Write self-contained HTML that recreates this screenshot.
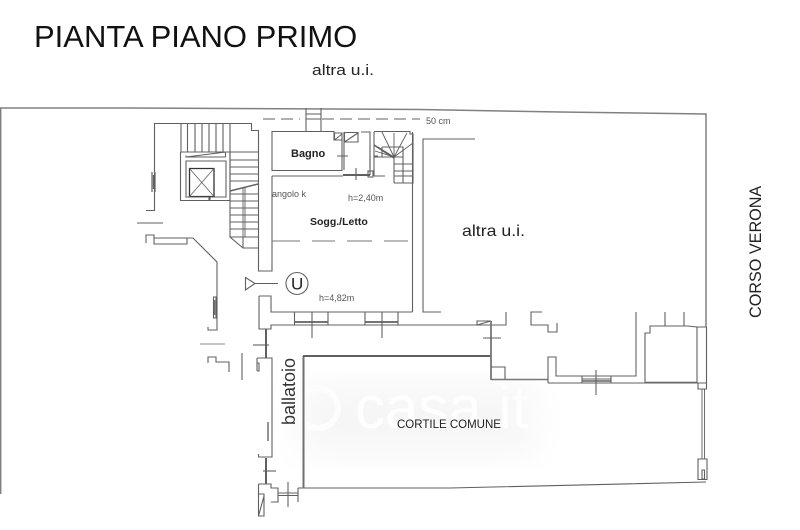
<!DOCTYPE html>
<html>
<head>
<meta charset="utf-8">
<style>
html,body{margin:0;padding:0;background:#fff;width:800px;height:530px;overflow:hidden}
svg{display:block}
text{font-family:"Liberation Sans",sans-serif}
</style>
</head>
<body>
<svg width="800" height="530" viewBox="0 0 800 530" xmlns="http://www.w3.org/2000/svg">
<defs>
<filter id="b" x="-20%" y="-20%" width="140%" height="140%"><feGaussianBlur stdDeviation="18"/></filter>
</defs>
<rect width="800" height="530" fill="#fff"/>
<!-- watermark haze -->
<rect x="300" y="385" width="235" height="70" fill="#f6f6f6" filter="url(#b)"/>
<circle cx="318" cy="408" r="20" fill="none" stroke="#fdfdfd" stroke-width="6"/>
<text x="355" y="428" font-size="60" fill="#fefefe">casa.it</text>

<g fill="none" stroke="#606060" stroke-width="1.1">
<!-- outer -->
<path d="M0.7 494V108L130 108 420 109.5 560 112 706 114V327" stroke="#808080" stroke-width="1.5"/>
<path d="M263 119H300M322 119H420" stroke-dasharray="12 6"/>
<!-- duct -->
<path d="M306 108V131M321 108V131M306 114H321M306 119H321"/>

<!-- stairwell outer -->
<path d="M146 210.5H154.5V123.5H251.5V130.5H258.5V271H272V176M272 131V170.5H342V140H334V131.5H272"/>
<path d="M181 123.5V152M187.5 123.5V152M195 123.5V152M202 123.5V152M209 123.5V152M216 123.5V152M223 123.5V152M230 123.5V152"/>
<path d="M180.5 152H258M185.5 157H225.5L186 157M186 157L226 152M186 155.5V157M225.5 152V157"/>
<path d="M180.5 152V200.5H209V197M230 152V200.5H210V197M186 161H226V197H186Z"/>
<path d="M189.5 168.5H214V196.5H189.5Z" stroke="#333" stroke-width="1.3"/>
<path d="M189.5 168.5L214 196.5M214 168.5L189.5 196.5M189.5 197H214" stroke-width=".8"/>
<path d="M230 152V237L243 248H258M230 160H258M230 167H258M230 174H258M230 181H258M230 194H258M230 201H258M230 208H258M230 215H258M230 222H258M230 229H258M230 237H258M243 248V237"/>
<path d="M230 191L258 184" stroke-width="1.5"/>
<path d="M243 188V237M245 188V237" stroke-width=".9"/>
<path d="M152 172V192M155 172V192M153.5 175V189" stroke-width="1.2"/>
<path d="M137 223H163"/>

<!-- left wing -->
<path d="M146 243V235H154V244H187V238H193L217 262V330H208V327M154 238H193"/>
<path d="M213.5 297H216V318H213.5ZM214.7 300V315"/>
<path d="M200 344H225" stroke="#888"/>
<path d="M208 363V357H216V362H229V372M242 353V380" />

<!-- triangle & U -->
<path d="M245.5 277.5V290L255 283.5ZM255 283.5H278"/>
<circle cx="297" cy="283.5" r="11"/>

<!-- block below -->
<path d="M259 296H271V312H412.5M259 296V329H271V325H490"/>
<path d="M266 329V358" stroke-width="2"/>
<path d="M253 345H269"/>
<path d="M257 358H272V457H258.5V454M257 358V371M257 371H259V363H257"/>
<path d="M268 422V441" stroke-width="1.8" stroke="#888"/>
<path d="M266 458V484" stroke-width="2"/>
<path d="M263 471H276"/>
<path d="M258.5 484H271V488H278V502H271M258.5 484V516H264V494H258.5M258.5 516L264 496"/>
<path d="M278 493H298M278 495.5H298"/>
<path d="M288 482V507M298 488V502M298 488H450L706 482"/>
<path d="M303.5 356V488" stroke-width="2" stroke="#707070"/>
<path d="M303 356H491" stroke-width="2" stroke="#606060"/>

<!-- windows on y=312-325 -->
<path d="M294.5 312V325M328 312V325M294.5 322H328M312 312V338"/>
<path d="M294.5 322H328" stroke-width="1.8"/>
<path d="M365 312V325M398 312V325M382 312V338"/>
<path d="M365 322H398" stroke-width="1.8"/>

<!-- Sogg room -->
<path d="M272 176H343M412.5 132V312"/>
<path d="M272 241H300M312 241H335M347 241H372M384 241H408" stroke="#777" stroke-width="1"/>

<!-- bagno utility -->
<path d="M334.5 133H342V140H334.5ZM334.5 140L342 134"/>
<path d="M344.5 132.5H358V142H344.5ZM344.5 142L358 133"/>
<path d="M344 132V170M361 132H370V175M374 132V176" />
<path d="M343 175H370" stroke-width="2"/>
<path d="M356 168V180M337 156H348"/>
<rect x="368" y="171" width="5" height="6"/>
<path d="M374 156H378M370 156V168"/>

<!-- spiral stair -->
<path d="M374 131.5H410V134H413V183H394"/>
<path d="M374 176H385M394 176H413M394 157V183M403 157V183M394 164H413M394 171H413"/>
<path d="M382 147V157H403V147H382"/>
<path d="M394 157L382 132M394 157L394 133M394 157L407 133M394 157L413 143M394 157L378 147M394 157L375 151M394 157H374" stroke-width=".9"/>
<path d="M374 145L394 158" stroke-width="1.6"/>

<!-- altra ui room -->
<path d="M441 312H423V139H475"/>

<!-- right -->
<path d="M477 325V321H491M477 325L491 321M506 312V325H490"/>
<path d="M491 321V380" stroke-width="1.8" stroke="#777"/>
<path d="M483 338H501M491 367H505V380" />
<path d="M491 379.5H548" stroke-width="1.6" stroke="#777"/>
<path d="M542 312H531V325H548V332H557V323"/>
<path d="M548 383V357H556V376H636V312"/>
<path d="M548 383H697"/>
<path d="M582 376V383M611 376V383M582 379H611M596 370V395" />
<path d="M582 381H611" stroke-width="1.6"/>
<path d="M645 383V333H650V326H687L697 327H706.5M665 312V326M684 312V326"/>
<path d="M645 382.5H697" stroke-width="1.6" stroke="#666"/>
<path d="M697 327V383H706.5M706.5 327V389H698V383"/>
<path d="M702 389V459M704.5 389V459" stroke-width=".9"/>
<path d="M698 459H707V479.5H698ZM702 470H704.5V479H702Z"/>
</g>

<!-- labels -->
<text x="34" y="47" font-size="31" fill="#111">PIANTA PIANO PRIMO</text>
<text x="312" y="75" font-size="15" textLength="62" lengthAdjust="spacingAndGlyphs" fill="#222">altra u.i.</text>
<text x="462" y="236" font-size="16" textLength="63" lengthAdjust="spacingAndGlyphs" fill="#222">altra u.i.</text>
<text x="291" y="157" font-size="11" font-weight="bold" fill="#222">Bagno</text>
<text x="310" y="225" font-size="10.5" font-weight="bold" fill="#222">Sogg./Letto</text>
<text x="272" y="197" font-size="9" fill="#555">angolo k</text>
<text x="348" y="201" font-size="9" fill="#555">h=2,40m</text>
<text x="319" y="301" font-size="9" fill="#555">h=4,82m</text>
<text x="426" y="124" font-size="9" fill="#555">50 cm</text>
<text x="397" y="428" font-size="11.5" fill="#222">CORTILE COMUNE</text>
<text transform="translate(761,318) rotate(-90)" font-size="16.2" fill="#222">CORSO VERONA</text>
<text transform="translate(295,425) rotate(-90)" font-size="18" fill="#333">ballatoio</text>
<text x="291" y="289.5" font-size="17" fill="#222">U</text>
</svg>
</body>
</html>
